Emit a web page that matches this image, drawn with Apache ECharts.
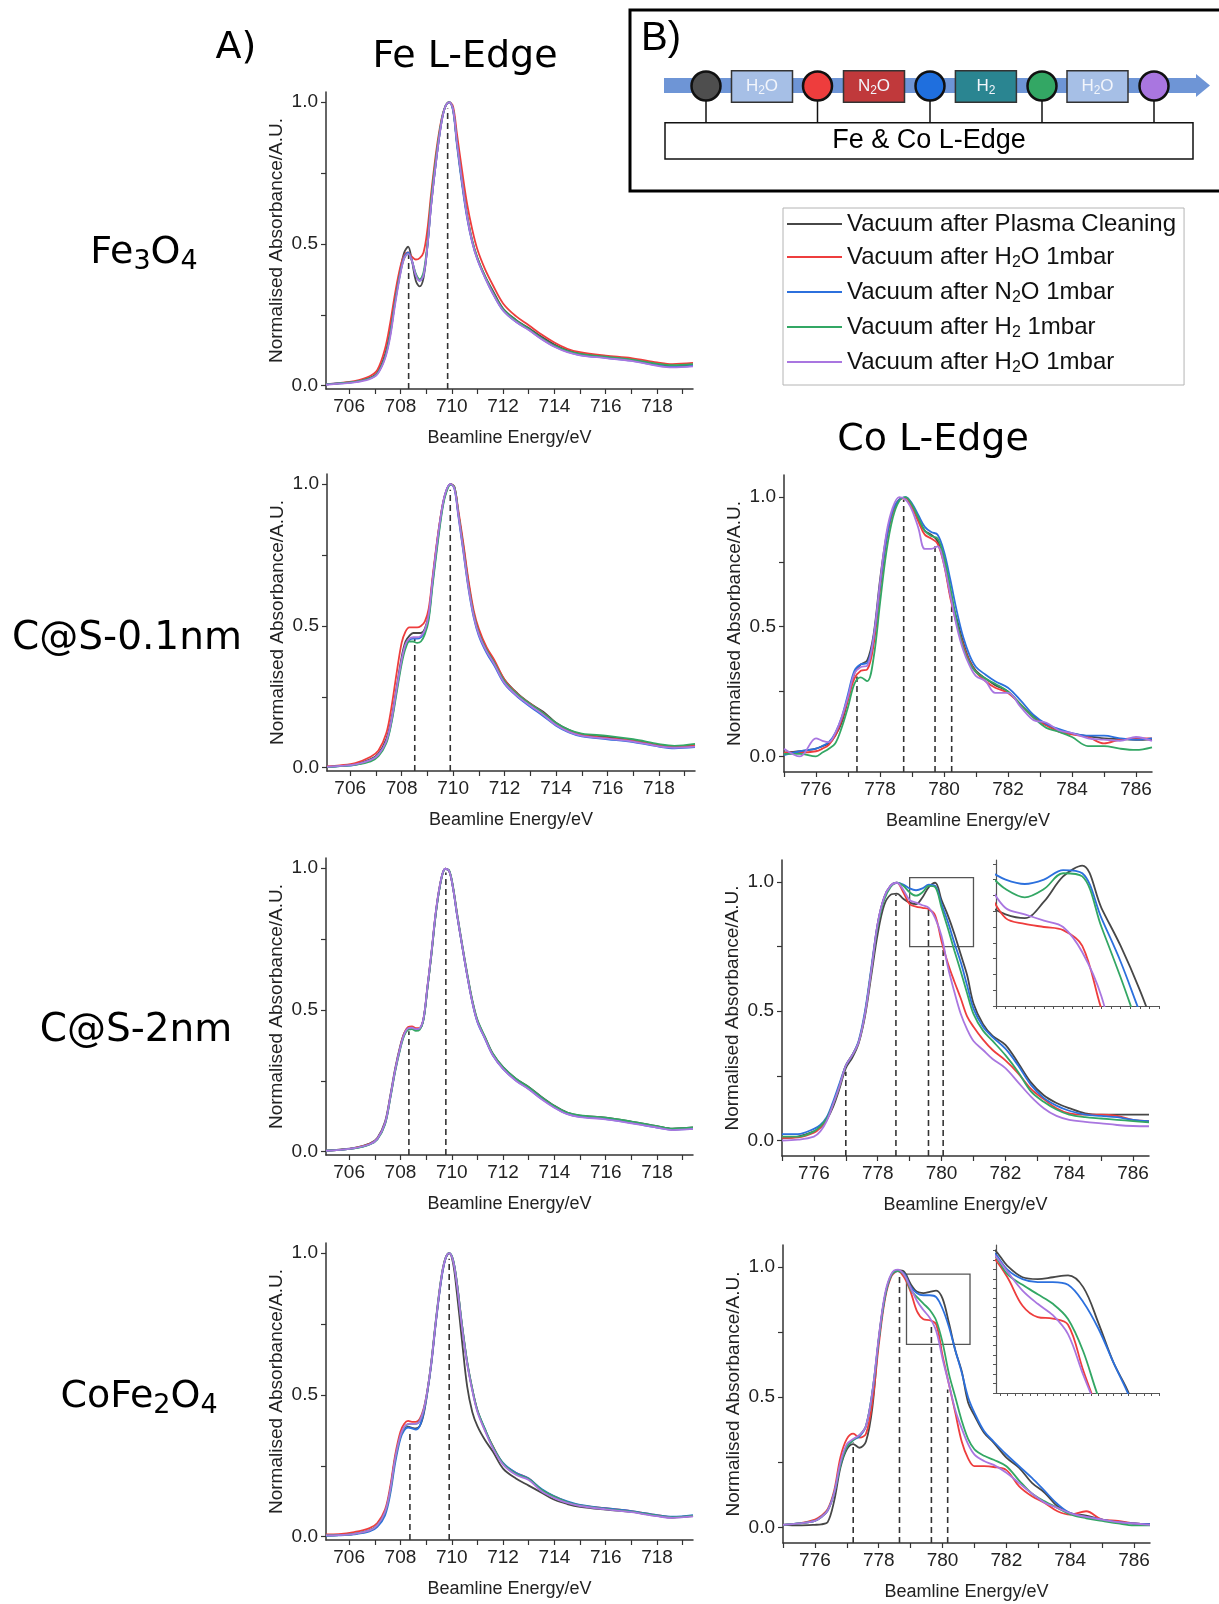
<!DOCTYPE html>
<html>
<head>
<meta charset="utf-8">
<script src="https://cdn.jsdelivr.net/npm/echarts@6.0.0/dist/echarts.min.js"></script>
<style>
  html, body { margin: 0; padding: 0; background: #fff; }
  #chart { width: 1219px; height: 1604px; }
</style>
</head>
<body>
<div id="chart"></div>
<script>
// ---------- energies (eV) ----------
const FE_ENERGY = [705.1, 705.6, 706.2, 706.8, 707.1, 707.4, 707.6, 707.8, 708.0, 708.15, 708.3, 708.45, 708.6, 708.75, 708.9, 709.05, 709.2, 709.4, 709.6, 709.75, 709.9, 710.05, 710.2, 710.4, 710.6, 710.8, 711.0, 711.3, 711.6, 712.0, 712.5, 713.0, 713.5, 714.0, 714.5, 715.0, 716.0, 717.0, 718.0, 718.6, 719.4];
const CO_ENERGY = [775.0, 775.5, 776.0, 776.2, 776.4, 776.6, 776.8, 777.0, 777.2, 777.4, 777.6, 777.8, 778.0, 778.2, 778.4, 778.6, 778.8, 779.0, 779.2, 779.4, 779.6, 779.8, 780.0, 780.2, 780.4, 780.6, 780.8, 781.0, 781.3, 781.6, 782.0, 782.4, 782.8, 783.2, 783.6, 784.0, 784.5, 785.0, 785.5, 786.0, 786.5];

// ---------- axis ticks ----------
const FE_TICKS = [706, 707, 708, 709, 710, 711, 712, 713, 714, 715, 716, 717, 718, 719];
const FE_TICK_LABELS = [706, 708, 710, 712, 714, 716, 718];
const CO_TICKS = [775, 776, 777, 778, 779, 780, 781, 782, 783, 784, 785, 786];
const CO_TICK_LABELS = [776, 778, 780, 782, 784, 786];
const Y_TICKS = [0, 0.25, 0.5, 0.75, 1.0];
const Y_TICK_LABELS = [0, 0.5, 1.0];

// ---------- Fe L-edge, Fe3O4 ----------
const fe_Fe3O4_plasma = [0.004, 0.008, 0.013, 0.027, 0.045, 0.11, 0.19, 0.31, 0.41, 0.47, 0.49, 0.44, 0.37, 0.35, 0.38, 0.49, 0.64, 0.80, 0.93, 0.985, 1.0, 0.975, 0.86, 0.72, 0.60, 0.51, 0.45, 0.385, 0.335, 0.272, 0.232, 0.203, 0.172, 0.145, 0.125, 0.113, 0.102, 0.092, 0.076, 0.069, 0.073];
const fe_Fe3O4_h2o = [0.005, 0.009, 0.016, 0.033, 0.055, 0.13, 0.22, 0.33, 0.42, 0.46, 0.47, 0.455, 0.445, 0.45, 0.47, 0.55, 0.68, 0.83, 0.94, 0.985, 1.0, 0.985, 0.89, 0.76, 0.64, 0.55, 0.48, 0.41, 0.355, 0.29, 0.245, 0.213, 0.18, 0.152, 0.13, 0.118, 0.106, 0.097, 0.082, 0.076, 0.08];
const fe_Fe3O4_n2o = [0.004, 0.008, 0.012, 0.025, 0.042, 0.10, 0.18, 0.30, 0.40, 0.455, 0.47, 0.44, 0.39, 0.37, 0.39, 0.49, 0.64, 0.80, 0.93, 0.985, 1.0, 0.97, 0.85, 0.71, 0.59, 0.505, 0.445, 0.38, 0.325, 0.265, 0.225, 0.197, 0.165, 0.138, 0.12, 0.108, 0.098, 0.088, 0.072, 0.066, 0.07];
const fe_Fe3O4_h2 = [0.004, 0.008, 0.013, 0.026, 0.043, 0.10, 0.18, 0.30, 0.40, 0.45, 0.465, 0.44, 0.395, 0.375, 0.40, 0.50, 0.66, 0.815, 0.935, 0.985, 1.0, 0.975, 0.86, 0.72, 0.60, 0.51, 0.45, 0.385, 0.33, 0.27, 0.23, 0.20, 0.168, 0.141, 0.123, 0.112, 0.102, 0.092, 0.077, 0.072, 0.076];
const fe_Fe3O4_h2oB = [0.003, 0.007, 0.011, 0.023, 0.04, 0.095, 0.17, 0.29, 0.395, 0.45, 0.465, 0.44, 0.39, 0.37, 0.39, 0.49, 0.64, 0.80, 0.93, 0.985, 1.0, 0.975, 0.86, 0.72, 0.595, 0.505, 0.445, 0.38, 0.325, 0.265, 0.225, 0.196, 0.164, 0.137, 0.118, 0.107, 0.097, 0.087, 0.07, 0.064, 0.068];

// ---------- Fe L-edge, C@S-0.1nm ----------
const fe_CS01_plasma = [0.003, 0.006, 0.012, 0.03, 0.05, 0.10, 0.17, 0.28, 0.39, 0.445, 0.465, 0.475, 0.475, 0.475, 0.49, 0.54, 0.66, 0.81, 0.93, 0.98, 1.0, 0.99, 0.90, 0.78, 0.65, 0.545, 0.48, 0.42, 0.375, 0.31, 0.262, 0.226, 0.197, 0.158, 0.133, 0.117, 0.108, 0.097, 0.079, 0.073, 0.079];
const fe_CS01_h2o = [0.004, 0.008, 0.016, 0.038, 0.06, 0.12, 0.21, 0.33, 0.44, 0.48, 0.495, 0.495, 0.495, 0.50, 0.515, 0.56, 0.67, 0.815, 0.93, 0.98, 1.0, 0.99, 0.91, 0.79, 0.66, 0.555, 0.49, 0.425, 0.38, 0.31, 0.26, 0.225, 0.193, 0.155, 0.13, 0.115, 0.104, 0.095, 0.078, 0.072, 0.078];
const fe_CS01_n2o = [0.002, 0.005, 0.01, 0.026, 0.045, 0.09, 0.16, 0.27, 0.375, 0.43, 0.45, 0.455, 0.455, 0.46, 0.48, 0.53, 0.65, 0.80, 0.925, 0.98, 1.0, 0.985, 0.89, 0.76, 0.63, 0.53, 0.465, 0.405, 0.36, 0.295, 0.25, 0.215, 0.182, 0.148, 0.124, 0.11, 0.10, 0.09, 0.074, 0.068, 0.072];
const fe_CS01_h2 = [0.002, 0.005, 0.01, 0.022, 0.04, 0.085, 0.155, 0.26, 0.365, 0.42, 0.445, 0.445, 0.44, 0.445, 0.47, 0.52, 0.64, 0.79, 0.92, 0.975, 0.998, 0.99, 0.90, 0.77, 0.64, 0.54, 0.475, 0.415, 0.37, 0.305, 0.258, 0.224, 0.192, 0.157, 0.133, 0.12, 0.112, 0.10, 0.083, 0.077, 0.084];
const fe_CS01_h2oB = [0.003, 0.006, 0.011, 0.027, 0.046, 0.092, 0.165, 0.275, 0.38, 0.435, 0.455, 0.46, 0.46, 0.465, 0.485, 0.54, 0.66, 0.81, 0.93, 0.982, 1.0, 0.985, 0.895, 0.765, 0.635, 0.535, 0.47, 0.41, 0.365, 0.298, 0.252, 0.218, 0.186, 0.15, 0.126, 0.112, 0.102, 0.092, 0.075, 0.07, 0.074];

// ---------- Fe L-edge, C@S-2nm ----------
const fe_CS2_plasma = [0.003, 0.007, 0.013, 0.028, 0.048, 0.105, 0.195, 0.295, 0.375, 0.418, 0.435, 0.437, 0.432, 0.434, 0.468, 0.575, 0.69, 0.855, 0.965, 0.998, 0.99, 0.93, 0.84, 0.73, 0.625, 0.532, 0.462, 0.402, 0.345, 0.298, 0.257, 0.228, 0.193, 0.162, 0.138, 0.127, 0.12, 0.106, 0.09, 0.081, 0.085];
const fe_CS2_h2o = [0.003, 0.006, 0.012, 0.027, 0.046, 0.10, 0.19, 0.29, 0.372, 0.418, 0.44, 0.442, 0.436, 0.437, 0.47, 0.58, 0.695, 0.86, 0.967, 0.998, 0.99, 0.932, 0.842, 0.73, 0.625, 0.53, 0.46, 0.40, 0.342, 0.294, 0.253, 0.223, 0.188, 0.158, 0.135, 0.125, 0.117, 0.103, 0.087, 0.078, 0.082];
const fe_CS2_n2o = [0.003, 0.006, 0.011, 0.025, 0.044, 0.098, 0.188, 0.288, 0.368, 0.413, 0.434, 0.436, 0.431, 0.433, 0.468, 0.578, 0.693, 0.858, 0.966, 0.998, 0.99, 0.93, 0.838, 0.728, 0.622, 0.527, 0.457, 0.397, 0.34, 0.292, 0.251, 0.221, 0.186, 0.156, 0.133, 0.123, 0.115, 0.101, 0.085, 0.077, 0.081];
const fe_CS2_h2 = [0.003, 0.006, 0.011, 0.025, 0.043, 0.096, 0.185, 0.285, 0.365, 0.41, 0.43, 0.432, 0.426, 0.43, 0.465, 0.575, 0.69, 0.855, 0.965, 0.997, 0.992, 0.935, 0.845, 0.735, 0.63, 0.535, 0.465, 0.404, 0.346, 0.298, 0.257, 0.227, 0.192, 0.161, 0.138, 0.128, 0.12, 0.106, 0.09, 0.081, 0.085];
const fe_CS2_h2oB = [0.003, 0.006, 0.012, 0.026, 0.045, 0.10, 0.19, 0.29, 0.37, 0.415, 0.435, 0.437, 0.432, 0.435, 0.47, 0.58, 0.695, 0.86, 0.967, 0.998, 0.99, 0.93, 0.84, 0.73, 0.623, 0.528, 0.458, 0.398, 0.34, 0.292, 0.25, 0.22, 0.185, 0.155, 0.132, 0.122, 0.114, 0.10, 0.085, 0.076, 0.08];

// ---------- Fe L-edge, CoFe2O4 ----------
const fe_CoFe2O4_plasma = [0.004, 0.005, 0.01, 0.022, 0.04, 0.088, 0.165, 0.28, 0.355, 0.38, 0.388, 0.384, 0.382, 0.39, 0.43, 0.51, 0.61, 0.774, 0.915, 0.98, 1.0, 0.965, 0.86, 0.69, 0.53, 0.44, 0.39, 0.34, 0.30, 0.24, 0.205, 0.18, 0.155, 0.13, 0.115, 0.105, 0.095, 0.087, 0.073, 0.067, 0.072];
const fe_CoFe2O4_h2o = [0.008, 0.009, 0.016, 0.03, 0.048, 0.095, 0.175, 0.29, 0.37, 0.398, 0.408, 0.405, 0.405, 0.415, 0.45, 0.515, 0.61, 0.774, 0.915, 0.98, 1.0, 0.975, 0.895, 0.745, 0.615, 0.52, 0.445, 0.375, 0.32, 0.258, 0.225, 0.205, 0.165, 0.142, 0.122, 0.11, 0.10, 0.09, 0.076, 0.068, 0.073];
const fe_CoFe2O4_n2o = [0.003, 0.004, 0.008, 0.018, 0.034, 0.075, 0.148, 0.262, 0.345, 0.375, 0.385, 0.382, 0.378, 0.39, 0.435, 0.51, 0.605, 0.77, 0.91, 0.978, 1.0, 0.976, 0.895, 0.745, 0.615, 0.52, 0.445, 0.378, 0.318, 0.26, 0.225, 0.205, 0.168, 0.142, 0.124, 0.112, 0.10, 0.09, 0.076, 0.07, 0.076];
const fe_CoFe2O4_h2 = [0.004, 0.005, 0.01, 0.022, 0.04, 0.085, 0.16, 0.275, 0.355, 0.385, 0.397, 0.398, 0.398, 0.408, 0.445, 0.515, 0.615, 0.78, 0.92, 0.982, 1.0, 0.978, 0.898, 0.748, 0.618, 0.522, 0.446, 0.378, 0.318, 0.258, 0.222, 0.203, 0.165, 0.14, 0.122, 0.11, 0.098, 0.088, 0.074, 0.068, 0.074];
const fe_CoFe2O4_h2oB = [0.004, 0.005, 0.01, 0.022, 0.04, 0.087, 0.163, 0.278, 0.357, 0.387, 0.398, 0.398, 0.398, 0.408, 0.445, 0.515, 0.612, 0.776, 0.917, 0.98, 1.0, 0.974, 0.892, 0.739, 0.61, 0.515, 0.44, 0.372, 0.312, 0.254, 0.218, 0.20, 0.16, 0.136, 0.119, 0.108, 0.096, 0.086, 0.072, 0.066, 0.071];

// ---------- Co L-edge, C@S-0.1nm ----------
const co_CS01_plasma = [0.015, 0.02, 0.03, 0.04, 0.05, 0.08, 0.13, 0.22, 0.32, 0.355, 0.37, 0.47, 0.68, 0.85, 0.95, 0.99, 0.998, 0.965, 0.915, 0.87, 0.855, 0.83, 0.75, 0.62, 0.53, 0.44, 0.37, 0.33, 0.30, 0.275, 0.25, 0.20, 0.155, 0.12, 0.10, 0.088, 0.078, 0.07, 0.067, 0.064, 0.066];
const co_CS01_h2o = [0.015, 0.015, 0.02, 0.03, 0.045, 0.08, 0.14, 0.22, 0.30, 0.33, 0.335, 0.43, 0.64, 0.83, 0.94, 0.99, 0.995, 0.96, 0.905, 0.855, 0.84, 0.82, 0.74, 0.61, 0.51, 0.43, 0.365, 0.325, 0.29, 0.265, 0.245, 0.20, 0.15, 0.12, 0.095, 0.085, 0.075, 0.05, 0.065, 0.07, 0.07];
const co_CS01_n2o = [0.005, 0.02, 0.03, 0.04, 0.055, 0.09, 0.15, 0.24, 0.33, 0.355, 0.36, 0.46, 0.66, 0.84, 0.95, 0.99, 1.0, 0.975, 0.93, 0.885, 0.865, 0.855, 0.79, 0.68, 0.56, 0.46, 0.39, 0.345, 0.315, 0.29, 0.265, 0.215, 0.16, 0.125, 0.105, 0.09, 0.08, 0.08, 0.07, 0.065, 0.07];
const co_CS01_h2 = [0.01, 0.01, 0.0, 0.015, 0.03, 0.05, 0.11, 0.19, 0.28, 0.305, 0.29, 0.38, 0.59, 0.79, 0.92, 0.985, 1.0, 0.97, 0.92, 0.87, 0.85, 0.84, 0.77, 0.65, 0.52, 0.42, 0.36, 0.325, 0.30, 0.28, 0.25, 0.20, 0.15, 0.11, 0.095, 0.075, 0.04, 0.04, 0.03, 0.025, 0.035];
const co_CS01_h2oB = [0.03, 0.0, 0.07, 0.06, 0.055, 0.09, 0.15, 0.23, 0.32, 0.345, 0.35, 0.46, 0.67, 0.86, 0.96, 1.0, 0.99, 0.95, 0.88, 0.80, 0.80, 0.81, 0.74, 0.62, 0.50, 0.41, 0.35, 0.31, 0.29, 0.245, 0.245, 0.19, 0.14, 0.13, 0.10, 0.09, 0.07, 0.065, 0.06, 0.075, 0.06];

// ---------- Co L-edge, C@S-2nm ----------
const co_CS2_plasma = [0.01, 0.015, 0.035, 0.05, 0.08, 0.13, 0.20, 0.28, 0.32, 0.375, 0.48, 0.64, 0.80, 0.91, 0.95, 0.955, 0.935, 0.92, 0.914, 0.94, 0.98, 0.997, 0.93, 0.87, 0.80, 0.72, 0.64, 0.53, 0.45, 0.405, 0.37, 0.30, 0.225, 0.175, 0.145, 0.125, 0.105, 0.10, 0.10, 0.10, 0.10];
const co_CS2_h2o = [0.01, 0.012, 0.03, 0.05, 0.085, 0.14, 0.21, 0.29, 0.33, 0.38, 0.49, 0.66, 0.84, 0.94, 0.985, 0.997, 0.96, 0.914, 0.905, 0.90, 0.895, 0.87, 0.77, 0.685, 0.615, 0.55, 0.48, 0.44, 0.39, 0.35, 0.31, 0.26, 0.20, 0.16, 0.125, 0.105, 0.10, 0.10, 0.095, 0.08, 0.075];
const co_CS2_n2o = [0.025, 0.025, 0.045, 0.06, 0.09, 0.15, 0.22, 0.29, 0.33, 0.385, 0.50, 0.67, 0.84, 0.94, 0.985, 0.997, 0.99, 0.975, 0.968, 0.975, 0.99, 0.985, 0.914, 0.845, 0.765, 0.69, 0.60, 0.51, 0.44, 0.40, 0.355, 0.29, 0.215, 0.165, 0.135, 0.115, 0.10, 0.095, 0.09, 0.08, 0.075];
const co_CS2_h2 = [0.015, 0.015, 0.035, 0.055, 0.085, 0.14, 0.21, 0.29, 0.33, 0.38, 0.49, 0.66, 0.83, 0.93, 0.98, 0.997, 0.985, 0.96, 0.947, 0.96, 0.985, 0.98, 0.90, 0.82, 0.735, 0.655, 0.57, 0.49, 0.425, 0.385, 0.33, 0.265, 0.19, 0.15, 0.12, 0.10, 0.09, 0.085, 0.08, 0.075, 0.07];
const co_CS2_h2oB = [0.0, 0.003, 0.015, 0.035, 0.075, 0.14, 0.21, 0.29, 0.33, 0.38, 0.49, 0.66, 0.84, 0.94, 0.985, 0.997, 0.97, 0.93, 0.92, 0.91, 0.90, 0.86, 0.79, 0.67, 0.575, 0.49, 0.43, 0.385, 0.35, 0.315, 0.28, 0.225, 0.17, 0.125, 0.095, 0.08, 0.072, 0.066, 0.06, 0.056, 0.055];

// ---------- Co L-edge, CoFe2O4 ----------
const co_CoFe2O4_plasma = [0.01, 0.008, 0.01, 0.012, 0.02, 0.10, 0.23, 0.30, 0.32, 0.306, 0.33, 0.46, 0.725, 0.892, 0.97, 0.988, 0.982, 0.935, 0.905, 0.90, 0.905, 0.91, 0.879, 0.785, 0.68, 0.60, 0.48, 0.43, 0.364, 0.326, 0.268, 0.229, 0.171, 0.133, 0.081, 0.055, 0.045, 0.03, 0.02, 0.015, 0.012];
const co_CoFe2O4_h2o = [0.01, 0.015, 0.03, 0.045, 0.07, 0.14, 0.27, 0.34, 0.36, 0.345, 0.36, 0.48, 0.70, 0.88, 0.965, 0.985, 0.96, 0.905, 0.83, 0.80, 0.796, 0.78, 0.66, 0.55, 0.44, 0.33, 0.265, 0.235, 0.235, 0.232, 0.22, 0.158, 0.12, 0.094, 0.062, 0.049, 0.062, 0.03, 0.025, 0.015, 0.012];
const co_CoFe2O4_n2o = [0.01, 0.015, 0.025, 0.04, 0.065, 0.13, 0.24, 0.31, 0.335, 0.35, 0.39, 0.52, 0.72, 0.89, 0.97, 0.985, 0.975, 0.925, 0.90, 0.892, 0.892, 0.885, 0.84, 0.77, 0.68, 0.595, 0.50, 0.44, 0.37, 0.33, 0.28, 0.235, 0.19, 0.14, 0.09, 0.055, 0.04, 0.03, 0.02, 0.015, 0.012];
const co_CoFe2O4_h2 = [0.01, 0.015, 0.025, 0.04, 0.065, 0.13, 0.24, 0.31, 0.335, 0.355, 0.39, 0.52, 0.72, 0.89, 0.97, 0.985, 0.97, 0.913, 0.885, 0.86, 0.835, 0.795, 0.71, 0.59, 0.50, 0.41, 0.34, 0.30, 0.275, 0.26, 0.235, 0.18, 0.13, 0.10, 0.075, 0.05, 0.035, 0.025, 0.015, 0.008, 0.008];
const co_CoFe2O4_h2oB = [0.01, 0.015, 0.025, 0.04, 0.065, 0.13, 0.25, 0.32, 0.34, 0.355, 0.39, 0.52, 0.73, 0.90, 0.975, 0.99, 0.97, 0.92, 0.87, 0.835, 0.805, 0.755, 0.648, 0.55, 0.45, 0.38, 0.32, 0.28, 0.255, 0.24, 0.21, 0.17, 0.13, 0.095, 0.075, 0.055, 0.04, 0.03, 0.02, 0.015, 0.01];

// ---------- peak markers [energy, height] ----------
const FE_MARKS_FE3O4 = [[708.32, 0.467], [709.84, 0.978]];
const FE_MARKS_CS01 = [[708.51, 0.456], [709.89, 0.98]];
const FE_MARKS_CS2 = [[708.33, 0.425], [709.77, 0.985]];
const FE_MARKS_COFE2O4 = [[708.37, 0.368], [709.9, 0.98]];
const CO_MARKS_CS01 = [[777.28, 0.308], [778.74, 0.99], [779.72, 0.81], [780.24, 0.578]];
const CO_MARKS_CS2 = [[777.0, 0.266], [778.57, 0.952], [779.59, 0.90], [780.05, 0.76]];
const CO_MARKS_COFE2O4 = [[777.2, 0.326], [778.65, 0.965], [779.65, 0.77], [780.16, 0.53]];

// ---------- zoom windows [xMin, yMin, xMax, yMax] ----------
const ZOOM_BOX_CS2 = [779.0, 0.75, 781.0, 1.017];
const ZOOM_BOX_COFE2O4 = [778.87, 0.703, 780.86, 0.973];
const INSET_RANGE_CS2 = [778.9, 0.775, 780.6, 1.006];
const INSET_RANGE_COFE2O4 = [778.85, 0.60, 781.0, 0.99];

// ---------- series identity ----------
const SERIES_KEYS = ['plasma', 'h2o', 'n2o', 'h2', 'h2oAgain'];
const SERIES_COLORS = ['#474747', '#ee3d3d', '#2c70dd', '#33a764', '#a976e0'];
const STEP_COLORS = ['#4e4e4e', '#ee3d3d', '#1f6fde', '#33a764', '#a976e0'];
const LEGEND_TEXT = [
  '{n|Vacuum after Plasma Cleaning}',
  '{n|Vacuum after H}{s|2}{n|O 1mbar}',
  '{n|Vacuum after N}{s|2}{n|O 1mbar}',
  '{n|Vacuum after H}{s|2}{n| 1mbar}',
  '{n|Vacuum after H}{s|2}{n|O 1mbar}'
];

const SANS = 'Liberation Sans, Arial, sans-serif';
const VERD = 'DejaVu Sans, Verdana, sans-serif';
const AXIS_COLOR = '#333';

const FE_X = [705.1, 719.4], FE_Y = [-0.012, 1.036];
const CO_X = [775.0, 786.5], CO_Y = [-0.06, 1.085];

const zip = (xs, ys) => ys.map((y, i) => [xs[i], y]);
function steps(min, max, step) {
  const out = [];
  for (let v = Math.ceil(min / step - 1e-9) * step; v <= max + 1e-9; v += step) out.push(+v.toFixed(4));
  return out;
}

const grid = [], xAxis = [], yAxis = [], series = [];

function addPanel(box, xr, yr, xTicks, xLabels, energies, curves, marks, zoomBox) {
  const gi = grid.length;
  grid.push(Object.assign({ containLabel: false }, box));
  xAxis.push({
    gridIndex: gi, type: 'value', min: xr[0], max: xr[1],
    axisLine: { show: true, onZero: false, lineStyle: { color: AXIS_COLOR, width: 1.5 } },
    axisTick: { show: true, length: 5, customValues: xTicks, lineStyle: { color: AXIS_COLOR, width: 1.2 } },
    axisLabel: { customValues: xLabels, fontSize: 19, fontFamily: SANS, color: '#222', margin: 8 },
    splitLine: { show: false },
    name: 'Beamline Energy/eV', nameLocation: 'middle', nameGap: 40,
    nameTextStyle: { fontSize: 18, fontFamily: SANS, color: '#222' }
  });
  yAxis.push({
    gridIndex: gi, type: 'value', min: yr[0], max: yr[1],
    axisLine: { show: true, onZero: false, lineStyle: { color: AXIS_COLOR, width: 1.5 } },
    axisTick: { show: true, length: 5, customValues: Y_TICKS, lineStyle: { color: AXIS_COLOR, width: 1.2 } },
    axisLabel: { customValues: Y_TICK_LABELS, fontSize: 19, fontFamily: SANS, color: '#222', margin: 8,
                 formatter: v => v.toFixed(1) },
    splitLine: { show: false },
    name: 'Normalised Absorbance/A.U.', nameLocation: 'middle', nameGap: 40,
    nameTextStyle: { fontSize: 19, fontFamily: SANS, color: '#222' }
  });
  marks.forEach(m => series.push({
    type: 'line', name: 'peak', xAxisIndex: gi, yAxisIndex: gi, silent: true,
    data: [[m[0], yr[0]], [m[0], m[1]]], symbol: 'none', z: 2,
    lineStyle: { color: '#333', width: 1.6, type: [6, 4] }
  }));
  curves.forEach((ys, k) => {
    const s = {
      type: 'line', name: SERIES_KEYS[k], xAxisIndex: gi, yAxisIndex: gi,
      data: zip(energies, ys), smooth: 0.35, symbol: 'none', z: 3,
      lineStyle: { color: SERIES_COLORS[k], width: 1.8 }, itemStyle: { color: SERIES_COLORS[k] }
    };
    if (k === 0 && zoomBox) {
      s.markArea = {
        silent: true, label: { show: false },
        itemStyle: { color: 'rgba(0,0,0,0)', borderColor: '#555', borderWidth: 1.3 },
        data: [[{ coord: [zoomBox[0], zoomBox[1]] }, { coord: [zoomBox[2], zoomBox[3]] }]]
      };
    }
    series.push(s);
  });
}

function addInset(box, range, energies, curves) {
  const gi = grid.length;
  grid.push(Object.assign({ show: true, backgroundColor: '#fff', borderWidth: 0 }, box));
  xAxis.push({
    gridIndex: gi, type: 'value', min: range[0], max: range[2],
    axisLine: { show: true, onZero: false, lineStyle: { color: '#555', width: 1.2 } },
    axisTick: { show: true, length: 3, customValues: steps(range[0], range[2], 0.1), lineStyle: { color: '#555' } },
    axisLabel: { show: false }, splitLine: { show: false }
  });
  yAxis.push({
    gridIndex: gi, type: 'value', min: range[1], max: range[3],
    axisLine: { show: true, onZero: false, lineStyle: { color: '#555', width: 1.2 } },
    axisTick: { show: true, length: 3, customValues: steps(range[1], range[3], 0.025), lineStyle: { color: '#555' } },
    axisLabel: { show: false }, splitLine: { show: false }
  });
  curves.forEach((ys, k) => series.push({
    type: 'line', name: SERIES_KEYS[k], xAxisIndex: gi, yAxisIndex: gi,
    data: zip(energies, ys), smooth: 0.35, symbol: 'none', z: 3, clip: true,
    lineStyle: { color: SERIES_COLORS[k], width: 1.8 }, itemStyle: { color: SERIES_COLORS[k] }
  }));
}

// Fe L-edge column
addPanel({ left: 326, top: 92, width: 367, height: 297 }, FE_X, FE_Y, FE_TICKS, FE_TICK_LABELS, FE_ENERGY,
  [fe_Fe3O4_plasma, fe_Fe3O4_h2o, fe_Fe3O4_n2o, fe_Fe3O4_h2, fe_Fe3O4_h2oB], FE_MARKS_FE3O4);
addPanel({ left: 327, top: 474, width: 368, height: 297 }, FE_X, FE_Y, FE_TICKS, FE_TICK_LABELS, FE_ENERGY,
  [fe_CS01_plasma, fe_CS01_h2o, fe_CS01_n2o, fe_CS01_h2, fe_CS01_h2oB], FE_MARKS_CS01);
addPanel({ left: 326, top: 858, width: 367, height: 297 }, FE_X, FE_Y, FE_TICKS, FE_TICK_LABELS, FE_ENERGY,
  [fe_CS2_plasma, fe_CS2_h2o, fe_CS2_n2o, fe_CS2_h2, fe_CS2_h2oB], FE_MARKS_CS2);
addPanel({ left: 326, top: 1243, width: 367, height: 297 }, FE_X, FE_Y, FE_TICKS, FE_TICK_LABELS, FE_ENERGY,
  [fe_CoFe2O4_plasma, fe_CoFe2O4_h2o, fe_CoFe2O4_n2o, fe_CoFe2O4_h2, fe_CoFe2O4_h2oB], FE_MARKS_COFE2O4);

// Co L-edge column
addPanel({ left: 784, top: 475, width: 368, height: 297 }, CO_X, CO_Y, CO_TICKS, CO_TICK_LABELS, CO_ENERGY,
  [co_CS01_plasma, co_CS01_h2o, co_CS01_n2o, co_CS01_h2, co_CS01_h2oB], CO_MARKS_CS01);
addPanel({ left: 782, top: 860, width: 367, height: 296 }, CO_X, CO_Y, CO_TICKS, CO_TICK_LABELS, CO_ENERGY,
  [co_CS2_plasma, co_CS2_h2o, co_CS2_n2o, co_CS2_h2, co_CS2_h2oB], CO_MARKS_CS2, ZOOM_BOX_CS2);
addPanel({ left: 783, top: 1245, width: 367, height: 298 }, CO_X, CO_Y, CO_TICKS, CO_TICK_LABELS, CO_ENERGY,
  [co_CoFe2O4_plasma, co_CoFe2O4_h2o, co_CoFe2O4_n2o, co_CoFe2O4_h2, co_CoFe2O4_h2oB], CO_MARKS_COFE2O4, ZOOM_BOX_COFE2O4);

// magnified insets
addInset({ left: 996, top: 860, width: 163, height: 146 }, INSET_RANGE_CS2, CO_ENERGY,
  [co_CS2_plasma, co_CS2_h2o, co_CS2_n2o, co_CS2_h2, co_CS2_h2oB]);
addInset({ left: 996, top: 1245, width: 163, height: 148 }, INSET_RANGE_COFE2O4, CO_ENERGY,
  [co_CoFe2O4_plasma, co_CoFe2O4_h2o, co_CoFe2O4_n2o, co_CoFe2O4_h2, co_CoFe2O4_h2oB]);

// ---------- annotations and the experiment sequence diagram ----------
const bigRich = {
  n: { fontSize: 38, lineHeight: 44, fontFamily: VERD, fill: '#000' },
  s: { fontSize: 27, lineHeight: 20, fontFamily: VERD, fill: '#000', verticalAlign: 'bottom' }
};
function label(x, y, text, opts) {
  return { type: 'text', x, y, z: 20,
    style: Object.assign({ text, fontSize: 38, fontFamily: VERD, fill: '#000', align: 'center', verticalAlign: 'middle' }, opts || {}) };
}

const graphics = [
  label(236, 48, 'A)'),
  label(465, 57, 'Fe L-Edge'),
  label(933, 440, 'Co L-Edge'),
  label(144, 253, '{n|Fe}{s|3}{n|O}{s|4}', { rich: bigRich }),
  label(127, 639, 'C@S-0.1nm', { fontSize: 39 }),
  label(136, 1031, 'C@S-2nm', { fontSize: 39 }),
  label(139, 1397, '{n|CoFe}{s|2}{n|O}{s|4}', { rich: bigRich })
];

// sequence diagram
const STEP_X = [706, 817.5, 930, 1042, 1154];
const GAS_BOX_X = [731.5, 843.5, 955.4, 1067];
const GAS_LABELS = ['{w|H}{ws|2}{w|O}', '{w|N}{ws|2}{w|O}', '{w|H}{ws|2}', '{w|H}{ws|2}{w|O}'];
const GAS_FILL = ['#a6bfe6', '#c0393b', '#2a8591', '#a6bfe6'];
const boxRich = {
  w: { fontSize: 17, lineHeight: 20, fontFamily: SANS, fill: '#f2f5fb' },
  ws: { fontSize: 12, lineHeight: 10, fontFamily: SANS, fill: '#f2f5fb', verticalAlign: 'bottom' }
};
graphics.push(
  { type: 'rect', z: 10, shape: { x: 630, y: 10, width: 600, height: 181 }, style: { fill: '#fff', stroke: '#000', lineWidth: 3 } },
  { type: 'text', z: 12, x: 641, y: 39, style: { text: 'B)', fontSize: 40, fontFamily: SANS, fill: '#000', align: 'left', verticalAlign: 'middle' } },
  { type: 'rect', z: 11, shape: { x: 664, y: 78, width: 533, height: 15 }, style: { fill: '#6e95d6' } },
  { type: 'polygon', z: 11, shape: { points: [[1196, 74], [1210, 85.5], [1196, 97]] }, style: { fill: '#6e95d6' } },
  { type: 'rect', z: 11, shape: { x: 665, y: 122.7, width: 528, height: 36.3 }, style: { fill: '#fff', stroke: '#111', lineWidth: 1.5 } },
  { type: 'text', z: 12, x: 929, y: 141, style: { text: 'Fe & Co L-Edge', fontSize: 27, fontFamily: SANS, fill: '#000', align: 'center', verticalAlign: 'middle' } }
);
STEP_X.forEach((x, i) => {
  graphics.push(
    { type: 'line', z: 11, shape: { x1: x, y1: 99, x2: x, y2: 122.7 }, style: { stroke: '#111', lineWidth: 1.5 } },
    { type: 'circle', z: 12, shape: { cx: x, cy: 86, r: 14.5 }, style: { fill: STEP_COLORS[i], stroke: '#111', lineWidth: 2.5 } }
  );
});
GAS_BOX_X.forEach((x, i) => {
  graphics.push(
    { type: 'rect', z: 12, shape: { x, y: 70.7, width: 61, height: 31.6 }, style: { fill: GAS_FILL[i], stroke: '#333', lineWidth: 1.5 } },
    { type: 'text', z: 13, x: x + 30.5, y: 86.5, style: { text: GAS_LABELS[i], rich: boxRich, fontSize: 17, fontFamily: SANS, align: 'center', verticalAlign: 'middle' } }
  );
});

const option = {
  animation: false,
  backgroundColor: '#fff',
  textStyle: { fontFamily: SANS },
  grid, xAxis, yAxis, series,
  legend: {
    data: SERIES_KEYS,
    orient: 'vertical', left: 783, top: 208,
    icon: 'rect', itemWidth: 55, itemHeight: 2, itemGap: 9,
    padding: [4, 8, 9, 4],
    borderColor: '#b4b4b4', borderWidth: 1, backgroundColor: '#fff',
    selectedMode: false,
    formatter: name => LEGEND_TEXT[SERIES_KEYS.indexOf(name)],
    textStyle: {
      fontFamily: SANS, fontSize: 24, color: '#111',
      rich: {
        n: { fontFamily: SANS, fontSize: 24, lineHeight: 28, color: '#111' },
        s: { fontFamily: SANS, fontSize: 16, lineHeight: 11, color: '#111', verticalAlign: 'bottom' }
      }
    }
  },
  graphic: { elements: graphics }
};

const chart = echarts.init(document.getElementById('chart'), null, { renderer: 'canvas' });
chart.setOption(option);
</script>
</body>
</html>
